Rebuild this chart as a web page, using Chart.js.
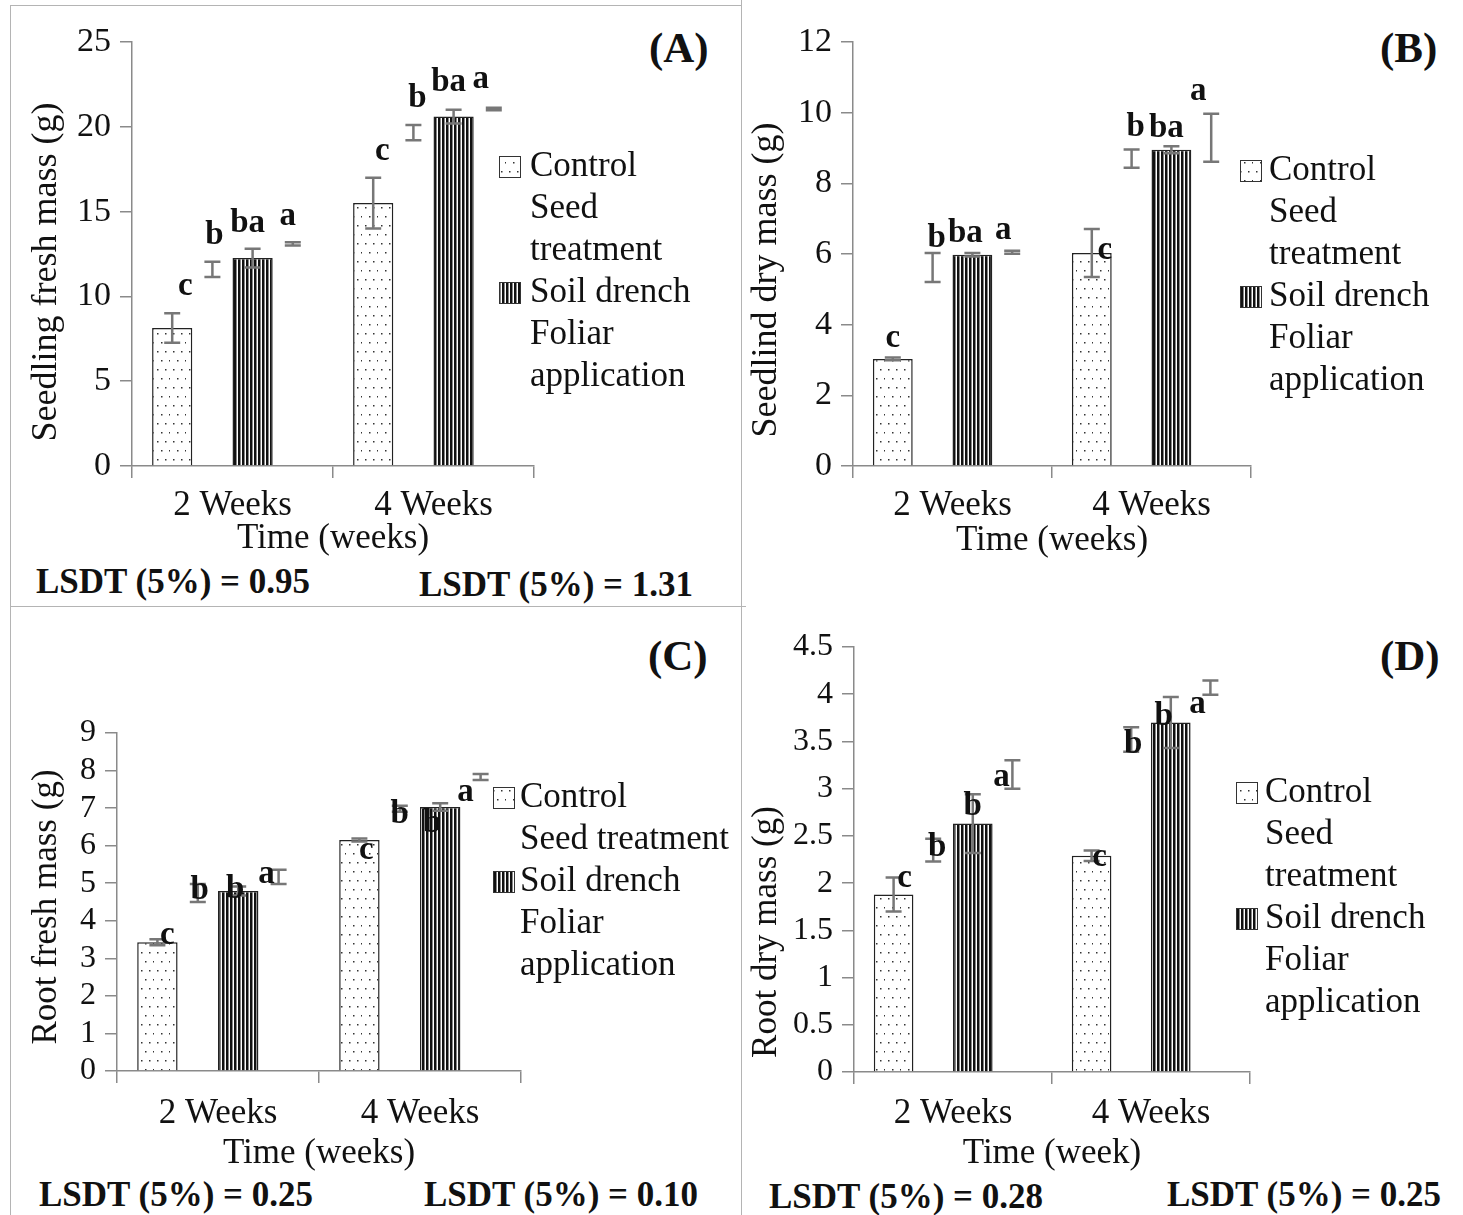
<!DOCTYPE html>
<html>
<head>
<meta charset="utf-8">
<script src="https://cdn.jsdelivr.net/npm/chart.js@4.4.1/dist/chart.umd.min.js"></script>
<style>
  body { margin: 0; background: #fff; width: 1463px; height: 1215px; position: relative; overflow: hidden; font-family: 'Liberation Serif', serif; }
  canvas { position: absolute; }
  .t { position: absolute; font-weight: bold; color: #111; white-space: nowrap; transform: translateY(-50%); }
  .rule { position: absolute; background: #b4b4b4; }
</style>
</head>
<body>
<div class="rule" style="left:10px;top:5px;width:731px;height:1px"></div>
<div class="rule" style="left:10px;top:5px;width:1px;height:1210px"></div>
<div class="rule" style="left:741px;top:0;width:1px;height:1215px"></div>
<div class="rule" style="left:10px;top:606px;width:736px;height:1px"></div>

<div class="t" style="left:649px;top:47px;font-size:43px">(A)</div>
<div class="t" style="left:1380px;top:47px;font-size:43px">(B)</div>
<div class="t" style="left:648px;top:655px;font-size:43px">(C)</div>
<div class="t" style="left:1380px;top:655px;font-size:43px">(D)</div>

<div class="t" style="left:36px;top:582px;font-size:35px">LSDT (5%) = 0.95</div>
<div class="t" style="left:419px;top:585px;font-size:35px">LSDT (5%) = 1.31</div>
<div class="t" style="left:39px;top:1195px;font-size:35px">LSDT (5%) = 0.25</div>
<div class="t" style="left:424px;top:1195px;font-size:35px">LSDT (5%) = 0.10</div>
<div class="t" style="left:769px;top:1197px;font-size:35px">LSDT (5%) = 0.28</div>
<div class="t" style="left:1167px;top:1195px;font-size:35px">LSDT (5%) = 0.25</div>

<script>
const categories = ['2 Weeks', '4 Weeks'];
const seriesNames = ['Control', 'Seed treatment', 'Soil drench', 'Foliar application'];

// (A) seedling fresh mass (g)
const freshControl = [8.14, 15.5];
const freshSeed = [11.6, 19.65];
const freshSoil = [12.26, 20.6];
const freshFoliar = [13.1, 21.05];
const freshControlErr = [0.87, 1.5];
const freshSeedErr = [0.45, 0.45];
const freshSoilErr = [0.55, 0.4];
const freshFoliarErr = [0.1, 0.08];
const freshLetters = [['c', 'c'], ['b', 'b'], ['ba', 'ba'], ['a', 'a']];

// (B) seedling dry mass (g)
const dryControl = [3.03, 6.03];
const drySeed = [5.62, 8.7];
const drySoil = [5.98, 8.95];
const dryFoliar = [6.05, 9.29];
const dryControlErr = [0.04, 0.68];
const drySeedErr = [0.41, 0.26];
const drySoilErr = [0.05, 0.1];
const dryFoliarErr = [0.04, 0.68];
const dryLetters = [['c', 'c'], ['b', 'b'], ['ba', 'ba'], ['a', 'a']];

// (C) root fresh mass (g)
const rootFreshControl = [3.43, 6.15];
const rootFreshSeed = [4.74, 6.98];
const rootFreshSoil = [4.79, 7.03];
const rootFreshFoliar = [5.17, 7.83];
const rootFreshControlErr = [0.08, 0.04];
const rootFreshSeedErr = [0.24, 0.08];
const rootFreshSoilErr = [0.12, 0.1];
const rootFreshFoliarErr = [0.19, 0.08];
const rootFreshLetters = [['c', 'c'], ['b', 'b'], ['b', 'b'], ['a', 'a']];

// (D) root dry mass (g)
const rootDryControl = [1.88, 2.29];
const rootDrySeed = [2.35, 3.52];
const rootDrySoil = [2.63, 3.70];
const rootDryFoliar = [3.15, 4.07];
const rootDryControlErr = [0.18, 0.055];
const rootDrySeedErr = [0.12, 0.13];
const rootDrySoilErr = [0.31, 0.27];
const rootDryFoliarErr = [0.15, 0.075];
const rootDryLetters = [['c', 'c'], ['b', 'b'], ['b', 'b'], ['a', 'a']];

const FONT = "'Liberation Serif', 'Times New Roman', serif";
const AXIS = '#8a8a8a';
const INK = '#111';

function dotPattern() {
  const c = document.createElement('canvas');
  c.width = 16; c.height = 18;
  const g = c.getContext('2d');
  g.fillStyle = '#fff';
  g.fillRect(0, 0, 16, 18);
  g.fillStyle = '#333';
  [[3, 4], [11, 4], [7, 13], [15, 13]].forEach(([x, y]) => g.fillRect(x, y, 1.5, 1.5));
  return g.createPattern(c, 'repeat');
}

function stripePattern() {
  const c = document.createElement('canvas');
  c.width = 4; c.height = 4;
  const g = c.getContext('2d');
  g.fillStyle = '#fff';
  g.fillRect(0, 0, 4, 4);
  g.fillStyle = '#111';
  g.fillRect(0, 0, 2.5, 4);
  return g.createPattern(c, 'repeat');
}

const fills = [dotPattern(), 'rgba(0,0,0,0)', stripePattern(), 'rgba(0,0,0,0)'];
const borders = [1.5, 0, 1.5, 0];

function wrapText(ctx, text, maxWidth) {
  const words = text.split(' ');
  const lines = [];
  let cur = '';
  words.forEach(w => {
    const test = cur ? cur + ' ' + w : w;
    if (cur && ctx.measureText(test).width > maxWidth) {
      lines.push(cur);
      cur = w;
    } else {
      cur = test;
    }
  });
  lines.push(cur);
  return lines;
}

function makePanel(p) {
  const canvas = document.createElement('canvas');
  canvas.width = p.width;
  canvas.height = p.height;
  canvas.style.left = p.left + 'px';
  canvas.style.top = p.top + 'px';
  document.body.appendChild(canvas);

  const xAxisH = p.xAxisH;

  // error bars + significance letters
  const marks = {
    id: 'marks',
    afterDatasetsDraw(chart) {
      const ctx = chart.ctx;
      const ys = chart.scales.y;
      ctx.save();
      chart.data.datasets.forEach((ds, i) => {
        chart.getDatasetMeta(i).data.forEach((bar, j) => {
          const v = p.values[i][j], e = p.errors[i][j];
          const top = ys.getPixelForValue(v + e);
          const bot = ys.getPixelForValue(v - e);
          ctx.strokeStyle = '#777';
          ctx.lineWidth = 2.5;
          ctx.beginPath();
          ctx.moveTo(bar.x, top); ctx.lineTo(bar.x, bot);
          ctx.moveTo(bar.x - 8, top); ctx.lineTo(bar.x + 8, top);
          ctx.moveTo(bar.x - 8, bot); ctx.lineTo(bar.x + 8, bot);
          ctx.stroke();
          ctx.fillStyle = INK;
          ctx.font = 'bold 33px ' + FONT;
          ctx.textAlign = 'center';
          ctx.textBaseline = 'alphabetic';
          ctx.fillText(p.letters[i][j], bar.x + p.letterDx[i][j], top + p.letterDy[i][j]);
        });
      });
      ctx.restore();
    }
  };

  // legend and rotated y title
  const side = {
    id: 'side',
    afterDraw(chart) {
      const ctx = chart.ctx;
      ctx.save();
      ctx.font = '35px ' + FONT;
      ctx.fillStyle = INK;
      ctx.textBaseline = 'middle';
      ctx.textAlign = 'left';
      let y = p.legend.y;
      chart.data.datasets.forEach((ds, i) => {
        const lines = wrapText(ctx, ds.label, p.legend.maxWidth);
        if (ds.borderWidth > 0) {
          ctx.fillStyle = ds.backgroundColor;
          ctx.fillRect(p.legend.swatchX, y - 11, 22, 22);
          ctx.strokeStyle = '#333';
          ctx.lineWidth = 1;
          ctx.strokeRect(p.legend.swatchX + 0.5, y - 10.5, 21, 21);
          ctx.fillStyle = INK;
        }
        lines.forEach(line => {
          ctx.fillText(line, p.legend.textX, y);
          y += 42;
        });
      });
      ctx.font = p.yTitle.size + 'px ' + FONT;
      ctx.translate(p.yTitle.x, p.yTitle.y);
      ctx.rotate(-Math.PI / 2);
      ctx.textAlign = 'center';
      ctx.fillText(p.yTitle.text, 0, 0);
      ctx.restore();
    }
  };

  return new Chart(canvas, {
    type: 'bar',
    data: {
      labels: categories,
      datasets: seriesNames.map((name, i) => ({
        label: name,
        data: p.values[i],
        backgroundColor: fills[i],
        borderColor: '#222',
        borderWidth: borders[i],
        borderSkipped: 'bottom',
        barPercentage: 1,
        categoryPercentage: 0.8
      }))
    },
    options: {
      responsive: false,
      animation: false,
      devicePixelRatio: 1,
      layout: {
        padding: {
          left: 0,
          right: p.width - p.area.right,
          top: p.area.top,
          bottom: p.height - p.area.bottom - xAxisH
        }
      },
      plugins: { legend: { display: false }, tooltip: { enabled: false } },
      scales: {
        x: {
          grid: { drawOnChartArea: false, color: AXIS, lineWidth: 1.5, tickLength: 12, offset: true },
          border: { color: AXIS, width: 1.5 },
          ticks: { font: { family: FONT, size: 35 }, color: INK, padding: p.xTickPad, maxRotation: 0 },
          title: { display: true, text: p.xTitle, font: { family: FONT, size: 35 }, color: INK, padding: { top: 0, bottom: p.xTitlePad } },
          afterFit(s) { s.height = xAxisH; }
        },
        y: {
          min: 0,
          max: p.yMax,
          grid: { drawOnChartArea: false, color: AXIS, lineWidth: 1.5, tickLength: 12 },
          border: { color: AXIS, width: 1.5 },
          ticks: {
            stepSize: p.yStep,
            autoSkip: false,
            font: { family: FONT, size: p.tickSize },
            color: INK,
            padding: 9,
            callback: v => String(Math.round(v * 10) / 10)
          },
          afterFit(s) { s.width = p.area.left; }
        }
      }
    },
    plugins: [marks, side]
  });
}

makePanel({
  left: 10, top: 5, width: 731, height: 601,
  area: { left: 122, right: 524, top: 37, bottom: 461 },
  yMax: 25, yStep: 5, tickSize: 34,
  values: [freshControl, freshSeed, freshSoil, freshFoliar],
  errors: [freshControlErr, freshSeedErr, freshSoilErr, freshFoliarErr],
  letters: freshLetters,
  letterDx: [[13, 9], [2, 4], [-5, -5], [-5, -13]],
  letterDy: [[-18, -18], [-18, -18], [-17, -19], [-17, -20]],
  legend: { swatchX: 489, textX: 520, y: 162, maxWidth: 200 },
  yTitle: { text: 'Seedling fresh mass (g)', x: 37, y: 267, size: 36 },
  xTitle: 'Time (weeks)', xAxisH: 100, xTickPad: 7, xTitlePad: 6
});

makePanel({
  left: 741, top: 5, width: 722, height: 601,
  area: { left: 112, right: 510, top: 37, bottom: 461 },
  yMax: 12, yStep: 2, tickSize: 34,
  values: [dryControl, drySeed, drySoil, dryFoliar],
  errors: [dryControlErr, drySeedErr, drySoilErr, dryFoliarErr],
  letters: dryLetters,
  letterDx: [[0, 13], [4, 4], [-7, -5], [-9, -13]],
  letterDy: [[-11, 30], [-6, -13], [-11, -9], [-12, -14]],
  legend: { swatchX: 499, textX: 528, y: 166, maxWidth: 190 },
  yTitle: { text: 'Seedlind dry mass (g)', x: 26, y: 275, size: 36 },
  xTitle: 'Time (weeks)', xAxisH: 100, xTickPad: 7, xTitlePad: 4
});

makePanel({
  left: 10, top: 606, width: 731, height: 609,
  area: { left: 107, right: 511, top: 127, bottom: 465 },
  yMax: 9, yStep: 1, tickSize: 32,
  values: [rootFreshControl, rootFreshSeed, rootFreshSoil, rootFreshFoliar],
  errors: [rootFreshControlErr, rootFreshSeedErr, rootFreshSoilErr, rootFreshFoliarErr],
  letters: rootFreshLetters,
  letterDx: [[10, 7], [2, 0], [-3, -8], [-12, -15]],
  letterDy: [[5, 20], [15, 17], [11, 29], [13, 27]],
  legend: { swatchX: 483, textX: 510, y: 192, maxWidth: 230 },
  yTitle: { text: 'Root fresh mass (g)', x: 37, y: 301, size: 35 },
  xTitle: 'Time (weeks)', xAxisH: 104, xTickPad: 10, xTitlePad: 0
});

makePanel({
  left: 741, top: 606, width: 722, height: 609,
  area: { left: 113, right: 509, top: 41, bottom: 466 },
  yMax: 4.5, yStep: 0.5, tickSize: 32,
  values: [rootDryControl, rootDrySeed, rootDrySoil, rootDryFoliar],
  errors: [rootDryControlErr, rootDrySeedErr, rootDrySoilErr, rootDryFoliarErr],
  letters: rootDryLetters,
  letterDx: [[11, 8], [4, 2], [0, -7], [-11, -13]],
  letterDy: [[10, 15], [17, 26], [21, 28], [26, 32]],
  legend: { swatchX: 495, textX: 524, y: 187, maxWidth: 190 },
  yTitle: { text: 'Root dry mass (g)', x: 26, y: 326, size: 35 },
  xTitle: 'Time (week)', xAxisH: 103, xTickPad: 9, xTitlePad: 0
});
</script>
</body>
</html>
